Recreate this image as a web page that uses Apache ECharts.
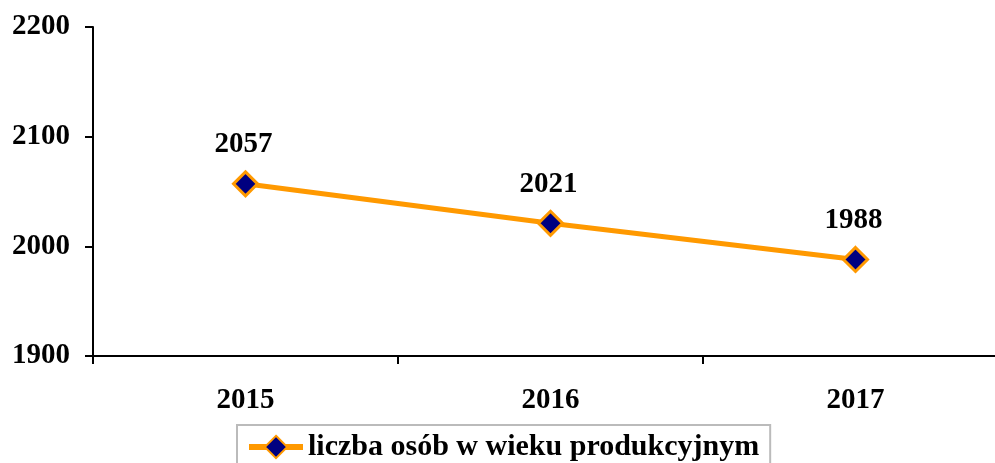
<!DOCTYPE html>
<html>
<head>
<meta charset="utf-8">
<script src="https://cdn.jsdelivr.net/npm/echarts@6/dist/echarts.min.js"></script>
<style>html,body{margin:0;padding:0;background:#fff}#c{width:995px;height:463px}</style>
</head>
<body>
<div id="c"></div>
<script>
const categories = ['2015', '2016', '2017'];
const values = [2057, 2021, 1988];
const seriesName = 'liczba osób w wieku produkcyjnym';
const yTicks = { min: 1900, max: 2200, interval: 100 };

const font = '"Liberation Serif", "Times New Roman", serif';
const chart = echarts.init(document.getElementById('c'));
chart.setOption({
  animation: false,
  backgroundColor: '#fff',
  grid: { left: 93, width: 915, top: 27, bottom: 107, outerBoundsMode: 'none', containLabel: false },
  xAxis: {
    type: 'category',
    data: categories,
    boundaryGap: true,
    axisLine: { lineStyle: { color: '#000', width: 2 } },
    axisTick: { show: true, length: 8, inside: false, lineStyle: { color: '#000', width: 2 } },
    axisLabel: { margin: 30, color: '#000', fontFamily: font, fontWeight: 'bold', fontSize: 29 }
  },
  yAxis: {
    type: 'value',
    min: yTicks.min, max: yTicks.max, interval: yTicks.interval,
    splitLine: { show: false },
    axisLine: { show: true, lineStyle: { color: '#000', width: 2 } },
    axisTick: { show: true, length: 8, lineStyle: { color: '#000', width: 2 } },
    axisLabel: { margin: 23, color: '#000', fontFamily: font, fontWeight: 'bold', fontSize: 29, formatter: v => String(v) }
  },
  legend: {
    left: 237, top: 425,
    padding: [7, 11, 10, 9],
    borderColor: '#bbbbbb', borderWidth: 2,
    itemWidth: 54, itemHeight: 28, itemGap: 8,
    lineStyle: { width: 6 },
    textStyle: { color: '#000', fontFamily: font, fontWeight: 'bold', fontSize: 30 },
    data: [seriesName]
  },
  series: [{
    name: seriesName,
    type: 'line',
    data: values,
    symbol: 'diamond',
    symbolSize: 24,
    lineStyle: { color: '#FF9900', width: 5 },
    itemStyle: { color: '#000080', borderColor: '#FF9900', borderWidth: 3 },
    label: { show: true, position: 'top', distance: 11, offset: [-2, 0], color: '#000', fontFamily: font, fontWeight: 'bold', fontSize: 29 }
  }]
});
</script>
</body>
</html>
